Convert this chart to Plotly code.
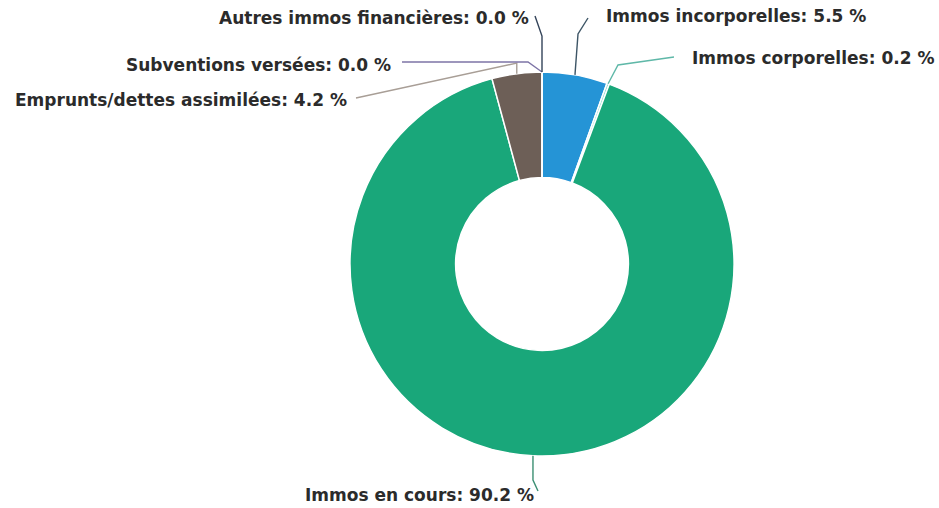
import math
import plotly.graph_objects as go

# Slices, clockwise from 12 o'clock
labels = [
    "Immos incorporelles",
    "Immos corporelles",
    "Immos en cours",
    "Emprunts/dettes assimilées",
    "Subventions versées",
    "Autres immos financières",
]
values = [5.5, 0.2, 90.2, 4.2, 0.0, 0.0]
slice_colors = ["#2594d6", "#8fd8cc", "#19a77a", "#6d5f57", "#8a7fb8", "#34445a"]
connector_colors = ["#3d5566", "#5fb8a8", "#3b8f73", "#a89e96", "#7d74a6", "#34445a"]

W, H = 939, 508
CX, CY, R = 542, 264, 192  # donut centre and outer radius (px)
HOLE = 0.45

# Label placement (px): text anchor point, alignment, elbow of connector
label_layout = {
    "Immos incorporelles": dict(tx=604, ty=16, align="left", end=(588, 18), elbow=(578, 34)),
    "Immos corporelles": dict(tx=690, ty=58, align="left", end=(674, 57), elbow=(618, 65)),
    "Immos en cours": dict(tx=536, ty=495, align="right", end=(538, 491), elbow=(None, 480)),
    "Emprunts/dettes assimilées": dict(tx=349, ty=100, align="right", end=(356, 98), elbow=(None, 63)),
    "Subventions versées": dict(tx=393, ty=65, align="right", end=(402, 62), elbow=(528, 62)),
    "Autres immos financières": dict(tx=531, ty=18, align="right", end=(535, 16), elbow=(None, 36)),
}


def px(x, y):
    return x / W, 1 - y / H


total = sum(values)
fig = go.Figure()
fig.add_trace(go.Pie(
    labels=labels,
    values=values,
    sort=False,
    direction="clockwise",
    rotation=0,
    hole=HOLE,
    marker=dict(colors=slice_colors, line=dict(color="white", width=1.5)),
    textinfo="none",
    hovertemplate="%{label}: %{percent:.1%}<extra></extra>",
    showlegend=False,
    domain=dict(x=[(CX - R) / W, (CX + R) / W], y=[(H - CY - R) / H, (H - CY + R) / H]),
))

shapes = []
annotations = []
cum = 0.0
for lab, val, col in zip(labels, values, connector_colors):
    mid = (cum + val / 2) / total * 2 * math.pi
    cum += val
    ax = CX + R * math.sin(mid)
    ay = CY - R * math.cos(mid)
    L = label_layout[lab]
    ex, ey = L["elbow"]
    if ex is None:
        ex = ax
    endx, endy = L["end"]
    p0 = px(ax, ay)
    p1 = px(ex, ey)
    p2 = px(endx, endy)
    shapes.append(dict(
        type="path", xref="paper", yref="paper",
        path=f"M {p0[0]:.5f},{p0[1]:.5f} L {p1[0]:.5f},{p1[1]:.5f} L {p2[0]:.5f},{p2[1]:.5f}",
        line=dict(color=col, width=1.4),
    ))
    tx, ty = px(L["tx"], L["ty"])
    annotations.append(dict(
        x=tx, y=ty, xref="paper", yref="paper",
        xanchor=L["align"], yanchor="middle",
        text=f"<b>{lab}: {val:.1f} %</b>",
        showarrow=False,
        font=dict(family="DejaVu Sans", size=17, color="#2b2b2b"),
    ))

fig.update_layout(
    width=W, height=H,
    margin=dict(l=0, r=0, t=0, b=0),
    paper_bgcolor="white",
    plot_bgcolor="white",
    shapes=shapes,
    annotations=annotations,
)

fig.write_html("out.html")
